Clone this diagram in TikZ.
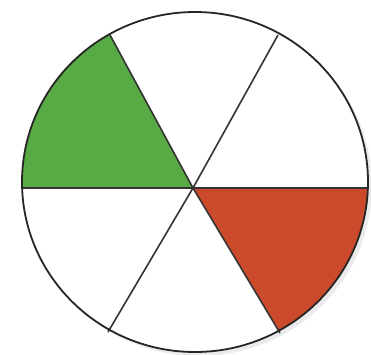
\documentclass[tikz,border=0pt]{standalone}
\begin{document}
\begin{tikzpicture}[x=1pt,y=-1pt,
  rim/.style={draw=black!85,line width=1.8pt},
  spoke/.style={draw=black!80,line width=1.6pt}]
\definecolor{sgreen}{RGB}{88,170,68}
\definecolor{sred}{RGB}{204,74,44}
\useasboundingbox (0,0) rectangle (371,354);
\fill[black!8] (199,186) ellipse [x radius=173, y radius=170];
\fill[white] (195,182) ellipse [x radius=173, y radius=170];
\coordinate (C) at (193,188);
\coordinate (UL) at (110,35);
\coordinate (UR) at (278,35);
\coordinate (LL) at (108,332);
\coordinate (LR) at (280,333);
\coordinate (L) at (21.5,188);
\coordinate (R) at (368,188);
\begin{scope}
  \clip (195,182) ellipse [x radius=173, y radius=170];
  \fill[sgreen] (C) -- (27,-118) -- (-100,-118) -- (-100,188) -- cycle;
  \fill[sred] (C) -- (500,188) -- (500,478) -- (367,478) -- cycle;
\end{scope}
\draw[spoke] (L) -- (C) -- (R);
\draw[spoke] (UL) -- (C) -- (LR);
\draw[spoke] (UR) -- (C) -- (LL);
\draw[rim] (195,182) ellipse [x radius=173, y radius=170];
\end{tikzpicture}
\end{document}
